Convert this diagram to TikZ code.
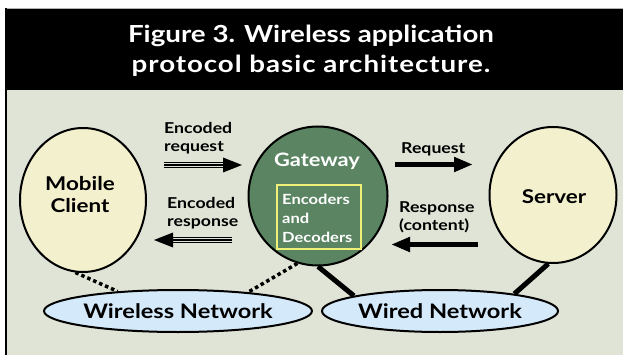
\documentclass[tikz,border=0pt]{standalone}
\usepackage{fontspec}
\setmainfont{Lato}[FakeStretch=1.18]
\usetikzlibrary{shapes.geometric,arrows.meta}
\definecolor{panelbg}{RGB}{223,228,214}
\definecolor{cream}{RGB}{243,240,206}
\definecolor{gwgreen}{RGB}{90,132,98}
\definecolor{netblue}{RGB}{212,234,250}
\definecolor{boxyellow}{RGB}{240,240,120}
\tikzset{
  bubble/.style={ellipse, draw=black, line width=2pt, inner sep=0pt},
  bigtxt/.style={font=\bfseries\fontsize{19}{22}\selectfont, align=center, inner sep=0pt, anchor=base},
  netbubble/.style={ellipse, draw=black, line width=2pt, fill=netblue, inner sep=0pt, minimum width=236pt, minimum height=42pt, font=\bfseries\fontsize{20}{22}\selectfont},
  lbl/.style={font=\bfseries\fontsize{15}{17.5}\selectfont, align=left, inner sep=0pt, anchor=base west},
  dotlink/.style={line width=3.5pt, dash pattern=on 3.5pt off 3pt},
  solidlink/.style={line width=5pt},
  fatarrow/.style={line width=5pt, -{Triangle[length=19pt,width=14pt]}},
}
\begin{document}
\begin{tikzpicture}[x=1pt,y=-1pt]
\useasboundingbox (0,0) rectangle (623,355);
\fill[white] (0,0) rectangle (623,355);
% frame
\fill[black] (5,8) rectangle (623,90);
\fill[panelbg] (5,90) rectangle (623,355);
\draw[gray!60, line width=0.6pt] (5,8) -- (623,8);
\draw[black, line width=2pt] (6,8) -- (6,355);
% title
\node[text=white, font=\bfseries\fontsize{23.5}{30.5}\selectfont, align=center, anchor=base, inner sep=0pt] (title) at (311,73)
  {Figure 3. Wireless application\\{\addfontfeature{LetterSpace=4}protocol basic architecture.}};
% main nodes
\node[bubble, fill=cream, minimum width=126pt, minimum height=144pt] (mobile) at (83,200) {};
\node[bigtxt] (mobiletxt) at (80,213) {Mobile\\Client};
\node[circle, draw=black, line width=2pt, fill=gwgreen, minimum size=139pt, inner sep=0pt] (gateway) at (318,196) {};
\node[text=white, font=\bfseries\fontsize{18.5}{22}\selectfont, anchor=base, inner sep=0pt] (gwtxt) at (317,167) {Gateway};
\node[draw=boxyellow, line width=1.2pt, minimum width=84pt, minimum height=64pt, inner sep=0pt] (codec) at (319,217) {};
\node[text=white, font=\bfseries\fontsize{14}{18.5}\selectfont, align=left, anchor=base west, inner sep=0pt] (codectxt) at (282,242) {Encoders\\and\\Decoders};
\node[bubble, fill=cream, minimum width=127pt, minimum height=136pt] (server) at (553,195) {};
\node[bigtxt] (servertxt) at (554,204) {Server};
\node[netbubble] (wireless) at (178,311) {Wireless Network};
\node[netbubble] (wired) at (440,311) {Wired Network};
% labels
\node[lbl] (encreq) at (164,151.5) {Encoded\\request};
\node[lbl] (encresp) at (167,226.5) {Encoded\\response};
\node[lbl] (req) at (401,154) {Request};
\node[lbl] (resp) at (399,230) {Response\\(content)};
% arrow coordinates
\coordinate (erqA) at (164,165);
\coordinate (erqH) at (224,165);
\coordinate (erqT) at (242,165);
\coordinate (ersA) at (232,240);
\coordinate (ersH) at (172,240);
\coordinate (ersT) at (154,240);
\coordinate (rqA) at (395,164.5);
\coordinate (rqT) at (473,164.5);
\coordinate (rsA) at (478,244.5);
\coordinate (rsT) at (391,244.5);
% triple-line arrows
\foreach \a/\h/\t in {erqA/erqH/erqT, ersA/ersH/ersT}{
  \draw[line width=6.4pt] (\a) -- (\h);
  \draw[panelbg, line width=4pt] (\a) -- (\h);
  \draw[line width=1.3pt] (\a) -- (\h);
  \draw[line width=0pt, -{Triangle[length=19pt,width=15pt]}] (\h) -- (\t);
}
% single fat arrows
\draw[fatarrow] (rqA) -- (rqT);
\draw[fatarrow] (rsA) -- (rsT);
% network links
\draw[dotlink] (mobile.-96) -- (wireless.162);
\draw[dotlink] (gateway.-107) -- (wireless.15);
\draw[solidlink] (gateway.-90) -- (wired.170);
\draw[solidlink] (server.-94) -- (wired.13);
\end{tikzpicture}
\end{document}
